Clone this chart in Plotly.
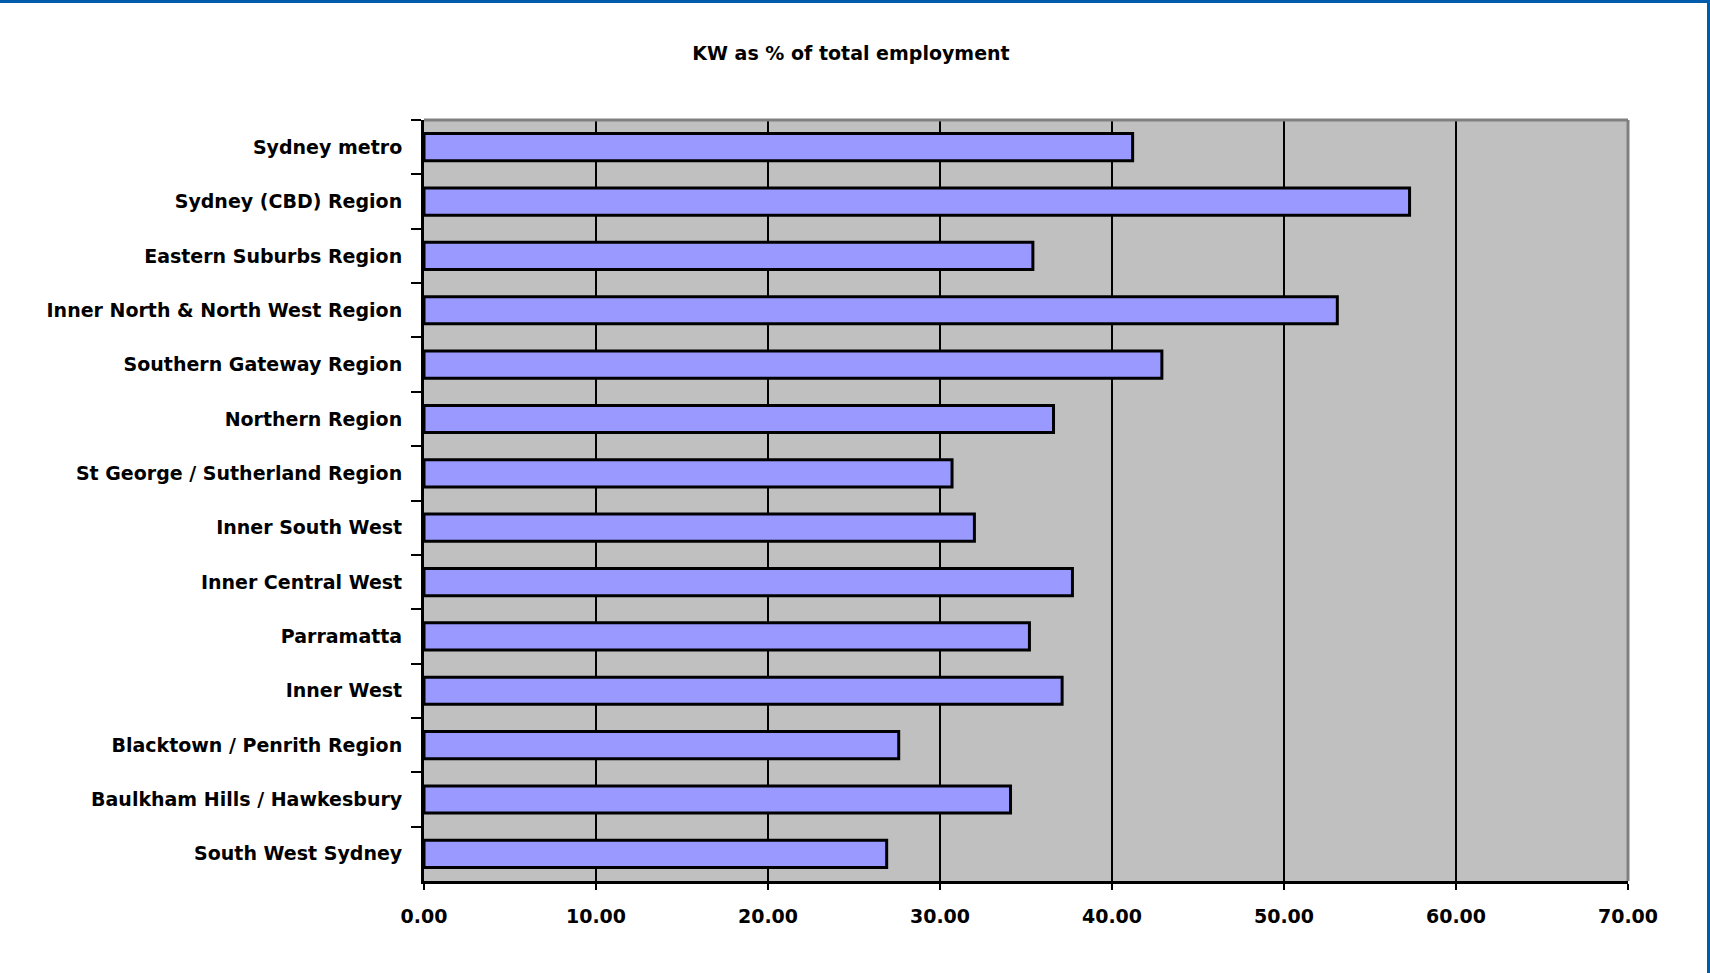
import plotly.graph_objects as go

title_text = "KW as % of total employment"

regions = [
    "Sydney metro",
    "Sydney (CBD) Region",
    "Eastern Suburbs Region",
    "Inner North & North West Region",
    "Southern Gateway Region",
    "Northern Region",
    "St George / Sutherland Region",
    "Inner South West",
    "Inner Central West",
    "Parramatta",
    "Inner West",
    "Blacktown / Penrith Region",
    "Baulkham Hills / Hawkesbury",
    "South West Sydney",
]

kw_share = [41.2, 57.3, 35.4, 53.1, 42.9, 36.6, 30.7, 32.0, 37.7, 35.2, 37.1, 27.6, 34.1, 26.9]

x_ticks = [0, 10, 20, 30, 40, 50, 60, 70]

W, H = 1710, 973
L, R, T, B = 424, 82, 120, 92

font_family = "DejaVu Sans"

fig = go.Figure()
fig.add_trace(go.Bar(
    y=regions,
    x=kw_share,
    orientation="h",
    width=0.5,
    marker=dict(color="#9999FF", line=dict(color="black", width=3)),
    hoverinfo="x+y",
))

pw = W - L - R
ph = H - T - B

fig.update_layout(
    width=W, height=H,
    margin=dict(l=L, r=R, t=T, b=B, pad=0),
    paper_bgcolor="white",
    plot_bgcolor="#C0C0C0",
    showlegend=False,
    title=dict(
        text=title_text,
        x=851 / W, xanchor="center", xref="container",
        y=1 - 53 / H, yanchor="middle", yref="container",
        font=dict(family=font_family, size=19, color="black", weight="bold"),
    ),
    xaxis=dict(
        range=[0, 70],
        tickvals=x_ticks,
        tickformat=".2f",
        showgrid=True, gridcolor="black", gridwidth=2,
        showline=True, linecolor="black", linewidth=3,
        ticks="outside", ticklen=6, tickwidth=2, tickcolor="black",
        ticklabelstandoff=10,
        zeroline=False,
        tickfont=dict(family=font_family, size=19, color="black", weight="bold"),
        fixedrange=True,
    ),
    yaxis=dict(
        categoryorder="array",
        categoryarray=regions,
        autorange="reversed",
        showgrid=False,
        showline=True, linecolor="black", linewidth=3,
        ticks="outside", ticklen=10, tickwidth=2, tickcolor="black",
        tickson="boundaries",
        ticklabelstandoff=15,
        tickfont=dict(family=font_family, size=19, color="black", weight="bold"),
        fixedrange=True,
    ),
    shapes=[
        # grey top and right border of the plot area
        dict(type="line", xref="paper", yref="paper", x0=0, x1=1, y0=1, y1=1,
             line=dict(color="#808080", width=3), layer="above"),
        dict(type="line", xref="paper", yref="paper", x0=1, x1=1, y0=0, y1=1,
             line=dict(color="#808080", width=3), layer="above"),
        # blue frame at top and right of the figure
        dict(type="line", xref="paper", yref="paper",
             x0=-L / pw, x1=(W - L) / pw, y0=(H - B - 1.5) / ph, y1=(H - B - 1.5) / ph,
             line=dict(color="#005BAA", width=3), layer="above"),
        dict(type="line", xref="paper", yref="paper",
             x0=(W - L - 1.5) / pw, x1=(W - L - 1.5) / pw, y0=-B / ph, y1=(H - B) / ph,
             line=dict(color="#005BAA", width=3), layer="above"),
    ],
)

fig.write_html("out.html")
